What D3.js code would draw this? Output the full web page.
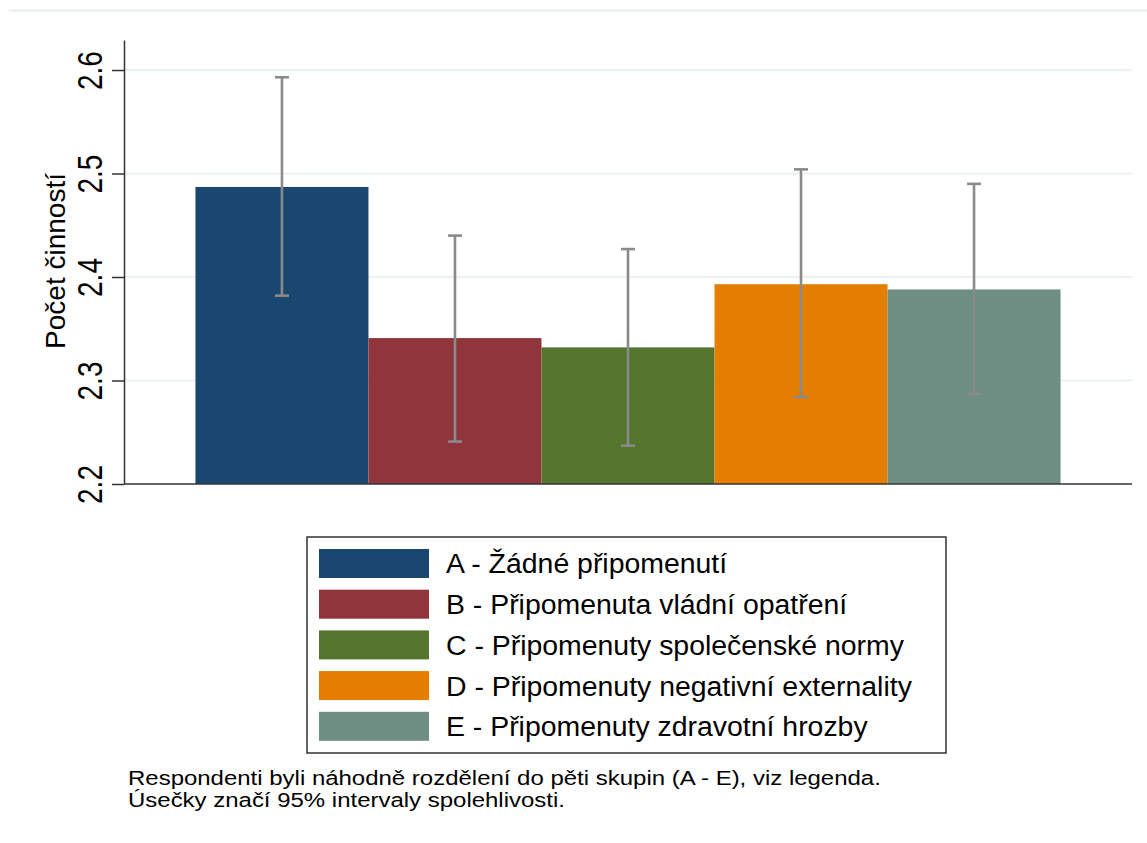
<!DOCTYPE html>
<html>
<head>
<meta charset="utf-8">
<script src="https://cdn.jsdelivr.net/npm/d3@7"></script>
<style>
  body { margin: 0; background: #ffffff; }
  svg { display: block; font-family: "Liberation Sans", Arial, sans-serif; }
</style>
</head>
<body>
<svg id="chart" width="1147" height="843"></svg>
<script>
// ---- data ----
const categories = ["A", "B", "C", "D", "E"];
const legendLabels = [
  "A - Žádné připomenutí",
  "B - Připomenuta vládní opatření",
  "C - Připomenuty společenské normy",
  "D - Připomenuty negativní externality",
  "E - Připomenuty zdravotní hrozby"
];
const means = [2.487, 2.341, 2.332, 2.393, 2.388];
const ciLow = [2.382, 2.241, 2.237, 2.284, 2.287];
const ciHigh = [2.593, 2.440, 2.427, 2.504, 2.490];
const yTicks = [2.2, 2.3, 2.4, 2.5, 2.6];
const colors = ["#1a476f", "#90353b", "#55752f", "#e37e00", "#6e8e84"];
const yTitle = "Počet činností";
const noteLines = [
  "Respondenti byli náhodně rozdělení do pěti skupin (A - E), viz legenda.",
  "Úsečky značí 95% intervaly spolehlivosti."
];

// ---- layout ----
const plot = { left: 124, right: 1132, top: 40, bottom: 484 };
const svg = d3.select("#chart");

// top frame line
svg.append("line")
  .attr("x1", 9).attr("x2", 1147).attr("y1", 10.5).attr("y2", 10.5)
  .attr("stroke", "#e6efee").attr("stroke-width", 2);

const y = d3.scaleLinear().domain([2.2, 2.629]).range([plot.bottom, plot.top]);
const x = d3.scaleBand().domain(categories).range([plot.left, plot.right])
  .paddingInner(0).paddingOuter(0.413);

// gridlines
svg.append("g").selectAll("line")
  .data(yTicks.filter(t => t > 2.2))
  .join("line")
  .attr("x1", plot.left).attr("x2", plot.right)
  .attr("y1", d => y(d)).attr("y2", d => y(d))
  .attr("stroke", "#eaf2f3").attr("stroke-width", 2);

// bars
svg.append("g").selectAll("rect")
  .data(categories)
  .join("rect")
  .attr("x", d => x(d))
  .attr("width", x.bandwidth())
  .attr("y", (d, i) => y(means[i]))
  .attr("height", (d, i) => y(2.2) - y(means[i]))
  .attr("fill", (d, i) => colors[i]);

// error bars
const eb = svg.append("g").attr("stroke", "#8a8a8a").attr("stroke-width", 2.6);
categories.forEach((c, i) => {
  const cx = x(c) + x.bandwidth() / 2;
  eb.append("line").attr("x1", cx).attr("x2", cx).attr("y1", y(ciLow[i])).attr("y2", y(ciHigh[i]));
  eb.append("line").attr("x1", cx - 7).attr("x2", cx + 7).attr("y1", y(ciLow[i])).attr("y2", y(ciLow[i]));
  eb.append("line").attr("x1", cx - 7).attr("x2", cx + 7).attr("y1", y(ciHigh[i])).attr("y2", y(ciHigh[i]));
});

// x axis line
svg.append("line")
  .attr("x1", plot.left).attr("x2", plot.right)
  .attr("y1", plot.bottom).attr("y2", plot.bottom)
  .attr("stroke", "#333").attr("stroke-width", 1.5);

// y axis
const yAxis = d3.axisLeft(y).tickValues(yTicks).tickSize(12).tickSizeOuter(0)
  .tickFormat(d3.format(".1f")).tickPadding(12);
const gy = svg.append("g").attr("transform", `translate(${plot.left},0)`).call(yAxis);
gy.select(".domain").attr("stroke", "#333").attr("stroke-width", 1.5);
gy.selectAll(".tick line").attr("stroke", "#333").attr("stroke-width", 1.5);
gy.selectAll(".tick text")
  .attr("font-size", 28)
  .attr("fill", "#000")
  .attr("font-family", "Liberation Sans, Arial, sans-serif")
  .attr("text-anchor", "middle")
  .attr("x", null).attr("dy", null)
  .attr("transform", "translate(-22,0) rotate(-90) scale(1,1.25)");

// y title
svg.append("text")
  .attr("transform", `translate(65,${(172 + 350) / 2}) rotate(-90)`)
  .attr("text-anchor", "middle")
  .attr("font-size", 28)
  .attr("fill", "#000")
  .text(yTitle);

// legend
const lg = svg.append("g");
lg.append("rect")
  .attr("x", 307).attr("y", 537).attr("width", 639).attr("height", 216)
  .attr("fill", "#fff").attr("stroke", "#333").attr("stroke-width", 1.5);
legendLabels.forEach((lab, i) => {
  const cy = 563.5 + i * 40.7;
  lg.append("rect").attr("x", 319).attr("y", cy - 14.5).attr("width", 110).attr("height", 29)
    .attr("fill", colors[i]);
  lg.append("text").attr("x", 446).attr("y", cy + 10)
    .attr("font-size", 28).attr("fill", "#000")
    .attr("transform", `translate(446,0) scale(1.015,1) translate(-446,0)`)
    .text(lab);
});

// note
svg.append("g").selectAll("text")
  .data(noteLines)
  .join("text")
  .attr("transform", (d, i) => `translate(128,${785 + i * 22}) scale(1.23,1)`)
  .attr("font-size", 19.5)
  .attr("fill", "#000")
  .text(d => d);
</script>
</body>
</html>
